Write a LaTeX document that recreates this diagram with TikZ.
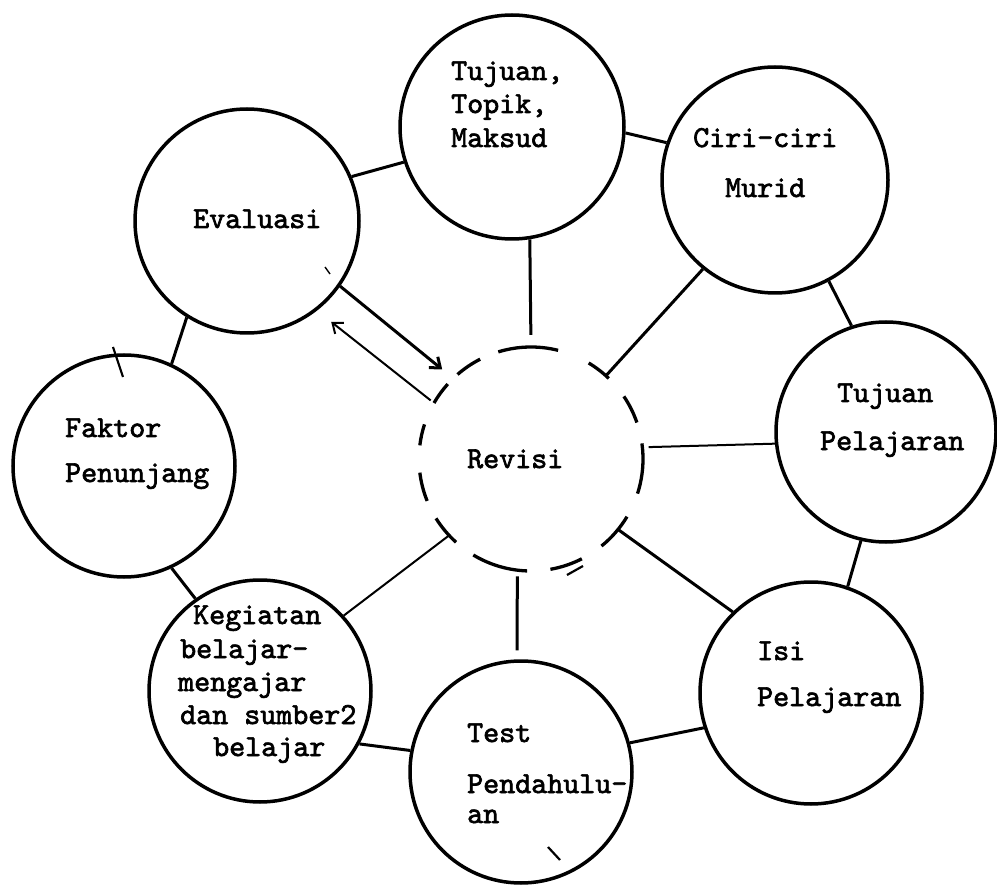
\documentclass[tikz,border=0pt]{standalone}
\usepackage{fontspec}
\usetikzlibrary{arrows.meta}
\newfontfamily\typewriter[FakeBold=2.2]{lmmono10-regular.otf}
\tikzset{
  bubble/.style={circle, draw, line width=3.5pt, inner sep=0pt},
  ghost/.style={circle, inner sep=0pt},
  link/.style={line width=3pt},
  thinlink/.style={line width=2pt},
  lbl/.style={anchor=base west, inner sep=0pt, font=\typewriter\fontsize{30.5}{32}\selectfont},
  revdash/.style={line width=3.3pt},
  barb/.style={-{Straight Barb[length=9pt,width=14pt]}},
  speck/.style={line width=2.2pt},
}
\begin{document}
\begin{tikzpicture}[x=1pt,y=-1pt]
\useasboundingbox (0,0) rectangle (997,885);

% circles
\node[bubble, minimum size=224pt] (t1)   at (512,127) {};
\node[bubble, minimum size=224pt] (eval) at (247,221) {};
\node[bubble, minimum size=226pt] (ciri) at (775,180) {};
\node[bubble, minimum size=220pt] (tp)   at (886,432) {};
\node[bubble, minimum size=222pt] (isi)  at (811,693) {};
\node[bubble, minimum size=222pt] (test) at (521,772) {};
\node[bubble, minimum size=222pt] (keg)  at (260,691) {};
\node[bubble, minimum size=222pt] (fak)  at (124,466) {};
\node[ghost,  minimum size=224pt] (rev)  at (531,459) {};

% dashed Revisi circle
\begin{scope}[shift={(531,459)}, y=1pt]
  \foreach \a/\b in {-18/8, 19/34, 46/59, 76/107, 117/131, 138/150, 162/173,
                     187/202, 212/228, 239/268, 280/297, 309/329}
    \draw[revdash] (\a:112) arc[start angle=\a, end angle=\b, radius=112];
\end{scope}

% labels
\node[lbl] (t1a) at (451,80)  {Tujuan,};
\node[lbl] (t1b) at (451,113) {Topik,};
\node[lbl] (t1c) at (451,147) {Maksud};
\node[lbl] (evt) at (193,228) {Evaluasi};
\node[lbl] (cia) at (693,147) {Ciri-ciri};
\node[lbl] (cib) at (725,197) {Murid};
\node[lbl] (tpa) at (837,402) {Tujuan};
\node[lbl] (tpb) at (820,450) {Pelajaran};
\node[lbl] (isa) at (757,660) {Isi};
\node[lbl] (isb) at (757,706) {Pelajaran};
\node[lbl] (tea) at (467,742) {Test};
\node[lbl] (teb) at (467,793) {Pendahulu-};
\node[lbl] (tec) at (467,823) {an};
\node[lbl] (kga) at (193,624) {Kegiatan};
\node[lbl] (kgb) at (180,658) {belajar-};
\node[lbl] (kgc) at (178,691) {mengajar};
\node[lbl] (kgd) at (180,724) {dan sumber2};
\node[lbl] (kge) at (213,756) {belajar};
\node[lbl] (fka) at (65,437)  {Faktor};
\node[lbl] (fkb) at (65,482)  {Penunjang};
\node[lbl] (rvt) at (467,468) {Revisi};

% connectors
\draw[link] (t1.198) -- (eval.23);
\draw[link] (t1.-3) -- (ciri.161);
\draw[link, shorten >=12pt] (t1.-81) -- (rev.90);
\draw[link] (ciri.231) -- (rev.48);
\draw[link] (ciri.-62) -- (tp.108);
\draw[thinlink, shorten <=6pt] (rev.6) -- (tp.186);
\draw[link] (tp.257) -- (isi.71);
\draw[link] (rev.-39) -- (isi.134);
\draw[link] (test.15) -- (isi.198);
\draw[link, shorten <=6pt, shorten >=9pt] (rev.263) -- (test.92);
\draw[thinlink] (rev.223) -- (keg.42);
\draw[link] (keg.-28) -- (test.169);
\draw[link] (fak.-65) -- (keg.125);
\draw[link] (fak.65) -- (eval.238);
\draw[link, barb, shorten >=14pt] (eval.-35) -- (rev.134);
\draw[thinlink, barb, shorten <=4pt, shorten >=18pt] (rev.150) -- (eval.-52);

% stray strokes of the original
\draw[speck] (548,847) -- (560,860);
\draw[speck] (113,347) -- (123,377);
\draw[line width=1.4pt] (325,267) -- (330,274);
\draw[speck] (567,575) -- (583,566);
\end{tikzpicture}
\end{document}
